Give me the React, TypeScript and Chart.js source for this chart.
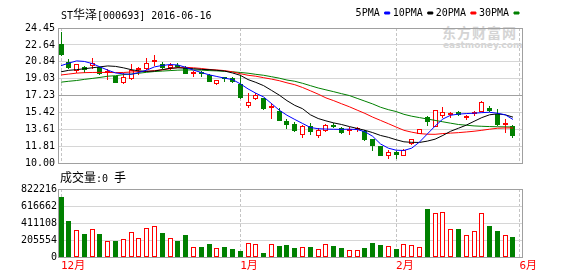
import React, { useEffect, useRef } from 'react';
import { Chart, registerables } from 'chart.js';

Chart.register(...registerables);

// ---------- data ----------
const monthLabels = ['12月', '1月', '2月', '6月'];
const monthTicks = [0, 23, 43, 58.83];
const priceTicks = [10.0, 11.81, 13.61, 15.42, 17.23, 19.03, 20.84, 22.64, 24.45];
const volumeTicks = [0, 205554, 411108, 616662, 822216];

const opens = [22.71, 20.82, 19.82, 20.32, 20.42, 20.26, 19.66, 19.32, 18.55, 19.01,
  19.95, 20.09, 20.82, 20.59, 20.19, 20.44, 20.19, 19.5, 19.55, 19.42,
  18.48, 19.0, 19.08, 18.48, 16.1, 16.82, 16.97, 15.88, 15.56, 14.46,
  14.15, 12.98, 13.95, 12.88, 13.45, 13.84, 13.72, 13.42, 13.5, 13.45,
  12.55, 11.77, 10.8, 11.14, 10.8, 12.04, 13.15, 14.89, 13.88, 15.06,
  15.13, 15.46, 14.86, 15.26, 15.46, 15.9, 15.23, 14.02, 13.95];
const closes = [21.53, 20.16, 20.56, 19.99, 20.74, 19.52, 19.72, 18.58, 19.19, 19.92,
  20.03, 20.74, 21.02, 20.12, 20.49, 20.26, 19.52, 19.55, 19.5, 18.65,
  18.85, 18.95, 18.63, 16.94, 16.57, 17.27, 15.73, 15.95, 14.49, 14.1,
  13.38, 13.95, 13.28, 13.55, 14.05, 13.8, 13.22, 13.47, 13.54, 12.47,
  11.81, 10.8, 11.21, 10.87, 11.39, 12.55, 13.62, 14.39, 15.63, 15.46,
  15.19, 15.16, 14.92, 15.32, 16.57, 15.56, 14.12, 14.08, 12.88];
const highs = [24.04, 21.13, 20.6, 20.42, 21.27, 20.32, 20.09, 19.35, 19.64, 20.59,
  20.29, 21.23, 21.53, 20.82, 20.74, 20.69, 20.34, 19.86, 19.82, 19.52,
  18.88, 19.19, 19.19, 19.38, 17.47, 17.5, 16.99, 16.47, 15.87, 14.66,
  14.39, 14.05, 14.29, 13.72, 14.15, 14.29, 13.88, 13.82, 13.88, 13.55,
  12.6, 11.87, 11.44, 11.24, 11.54, 12.6, 13.65, 15.06, 15.66, 16.0,
  15.49, 15.56, 15.16, 15.56, 16.6, 16.07, 15.79, 14.66, 14.05];
const lows = [21.4, 20.09, 19.66, 19.66, 20.09, 19.42, 18.85, 18.51, 18.48, 18.85,
  19.42, 19.92, 20.42, 20.02, 19.99, 20.19, 19.49, 19.19, 19.19, 18.62,
  18.31, 18.68, 18.53, 16.87, 15.9, 16.72, 15.7, 14.76, 14.46, 13.65,
  13.36, 12.65, 13.05, 12.72, 13.3, 13.7, 13.15, 13.05, 13.28, 12.37,
  11.27, 10.73, 10.46, 10.46, 10.78, 11.98, 13.12, 13.98, 13.85, 14.83,
  14.83, 15.06, 14.56, 15.06, 15.43, 15.46, 13.95, 13.22, 12.72];
const volumes = [728600, 431500, 321600, 272700, 333800, 272700, 199500, 199500, 211700, 301200,
  223900, 354100, 370400, 284900, 223900, 191300, 260500, 126200, 126200, 162800,
  109900, 126200, 101800, 69200, 171000, 162800, 52900, 162800, 138400, 150600,
  114000, 126200, 126200, 97700, 162800, 138400, 114000, 89500, 89500, 114000,
  175000, 150600, 134300, 101800, 162800, 146500, 122100, 578000, 529100, 549500,
  333800, 333800, 260500, 317500, 529100, 370400, 309300, 268600, 236100];
const ma5 = [20.42, 20.69, 20.93, 20.87, 20.64, 20.29, 19.94, 19.64, 19.54, 19.49,
  19.69, 19.94, 20.29, 20.44, 20.54, 20.49, 20.24, 19.94, 19.69, 19.44,
  19.26, 19.08, 18.93, 18.48, 17.93, 17.47, 17.07, 16.37, 15.66, 15.11,
  14.66, 14.23, 13.8, 13.67, 13.63, 13.61, 13.6, 13.62, 13.58, 13.35,
  12.85, 12.04, 11.59, 11.37, 11.34, 11.59, 12.24, 13.1, 13.95, 14.71,
  15.11, 15.23, 15.29, 15.33, 15.39, 15.43, 15.33, 15.16, 14.66];
const ma10 = [19.76, 19.92, 19.99, 20.09, 20.19, 20.29, 20.39, 20.34, 20.19, 19.99,
  19.86, 19.81, 19.84, 19.99, 20.14, 20.19, 20.14, 20.09, 20.02, 19.99,
  19.92, 19.84, 19.64, 19.39, 18.93, 18.63, 18.28, 17.78, 17.27, 16.67,
  16.17, 15.81, 15.16, 14.76, 14.51, 14.29, 14.12, 13.9, 13.7, 13.5,
  13.25, 12.95, 12.75, 12.49, 12.27, 12.21, 12.2, 12.34, 12.55, 12.95,
  13.4, 13.72, 14.05, 14.46, 14.86, 15.16, 15.26, 15.16, 14.91];
const ma20 = [19.42, 19.52, 19.62, 19.67, 19.69, 19.7, 19.69, 19.68, 19.69, 19.74,
  19.79, 19.82, 19.89, 19.97, 20.09, 20.22, 20.24, 20.19, 20.12, 20.02,
  19.96, 19.89, 19.76, 19.56, 19.39, 19.29, 19.13, 18.98, 18.81, 18.58,
  18.38, 18.08, 17.73, 17.37, 16.97, 16.67, 16.34, 16.02, 15.66, 15.31,
  14.91, 14.56, 14.21, 13.85, 13.5, 13.3, 13.15, 13.08, 13.07, 13.15,
  13.2, 13.25, 13.32, 13.4, 13.5, 13.62, 13.72, 13.75, 13.75];
const ma30 = [18.65, 18.75, 18.83, 18.95, 19.05, 19.16, 19.29, 19.34, 19.46, 19.52,
  19.61, 19.71, 19.79, 19.84, 19.89, 19.94, 19.96, 19.96, 19.94, 19.89,
  19.86, 19.82, 19.76, 19.69, 19.61, 19.49, 19.39, 19.24, 19.08, 18.88,
  18.75, 18.53, 18.28, 18.03, 17.83, 17.63, 17.42, 17.22, 16.92, 16.62,
  16.32, 15.97, 15.71, 15.51, 15.21, 15.01, 14.86, 14.71, 14.56, 14.41,
  14.26, 14.12, 14.05, 13.97, 13.93, 13.9, 13.88, 13.87, 13.85];

const maSeries = [
  { label: '5PMA', values: ma5, color: '#0000ff' },
  { label: '10PMA', values: ma10, color: '#000000' },
  { label: '20PMA', values: ma20, color: '#ff0000' },
  { label: '30PMA', values: ma30, color: '#008000' },
];

// ---------- styling ----------
const MONO = '"DejaVu Sans Mono", "Noto Sans CJK SC", monospace';
const CJK = '"Noto Sans CJK SC", sans-serif';
const UP = '#ff0000';
const DOWN = '#008000';
const X_MIN = -0.385;
const X_MAX = 59.155;

const upFlags = opens.map((o, i) => closes[i] >= o);
const markColor = upFlags.map((u) => (u ? UP : DOWN));
const hollowFill = upFlags.map((u) => (u ? '#ffffff' : DOWN));

// draws the grey frame around the plot area
const framePlugin = {
  id: 'frame',
  beforeDatasetsDraw(chart: any) {
    const { ctx, chartArea } = chart;
    const l = Math.round(chartArea.left) + 0.5;
    const t = Math.round(chartArea.top) + 0.5;
    const r = Math.round(chartArea.right) + 0.5;
    const b = Math.round(chartArea.bottom) + 0.5;
    ctx.save();
    ctx.setLineDash([]);
    ctx.strokeStyle = '#a0a0a0';
    ctx.lineWidth = 1;
    ctx.strokeRect(l, t, r - l, b - t);
    ctx.restore();
  },
};

// snaps bar elements (computed by the scales) to whole pixels so outlines stay crisp
const snapPlugin = {
  id: 'snapBars',
  afterDatasetsUpdate(chart: any) {
    chart.getSortedVisibleDatasetMetas().forEach((meta: any) => {
      if (meta.type !== 'bar') return;
      meta.data.forEach((el: any) => {
        const half = (el.width || 0) / 2;
        el.x = Math.round(el.x - half) + half;
        el.y = Math.round(el.y);
        el.base = Math.round(el.base);
      });
    });
  },
};

function monthAxis(showLabels: boolean) {
  return {
    type: 'linear',
    min: X_MIN,
    max: X_MAX,
    offset: false,
    afterBuildTicks: (axis: any) => {
      axis.ticks = monthTicks.map((v) => ({ value: v }));
    },
    afterFit: (axis: any) => {
      axis.height = showLabels ? 19 : 0;
    },
    grid: { offset: false, color: '#c4c4c4', lineWidth: 1, drawTicks: false },
    border: { display: false, dash: [3, 2] },
    ticks: {
      display: showLabels,
      autoSkip: false,
      maxRotation: 0,
      minRotation: 0,
      align: 'start',
      padding: 3,
      color: UP,
      font: { family: MONO, size: 11 },
      callback: (_v: any, i: number) => monthLabels[i],
    },
  };
}

function buildMainConfig(): any {
  return {
    type: 'bar',
    data: {
      datasets: [
        ...maSeries.map((s) => ({
          type: 'line',
          label: s.label,
          data: s.values.map((v, i) => ({ x: i, y: v })),
          borderColor: s.color,
          backgroundColor: s.color,
          borderWidth: 1,
          pointRadius: 0,
          tension: 0,
          order: 0,
        })),
        {
          type: 'bar',
          label: 'body',
          data: opens.map((o, i) => ({ x: i, y: [o, closes[i]] })),
          backgroundColor: hollowFill,
          borderColor: markColor,
          borderWidth: 1,
          borderSkipped: false,
          barThickness: 5,
          minBarLength: 2,
          inflateAmount: 0,
          grouped: false,
          order: 1,
        },
        {
          type: 'bar',
          label: 'wick',
          data: lows.map((l, i) => ({ x: i, y: [l, highs[i]] })),
          backgroundColor: markColor,
          borderWidth: 0,
          barThickness: 1,
          inflateAmount: 0,
          grouped: false,
          order: 2,
        },
      ],
    },
    options: {
      responsive: false,
      animation: false,
      events: [],
      layout: { padding: { top: 5, right: 56, bottom: 7, left: 0 } },
      plugins: {
        title: { display: false },
        tooltip: { enabled: false },
        legend: {
          display: true,
          position: 'top',
          align: 'start',
          rtl: true,
          textDirection: 'ltr',
          reverse: true,
          labels: {
            boxWidth: 5,
            boxHeight: 2,
            padding: 3,
            color: '#000000',
            font: { family: MONO, size: 10 },
            filter: (item: any) => item.datasetIndex < maSeries.length,
          },
        },
      },
      scales: {
        x: monthAxis(false),
        y: {
          type: 'linear',
          min: priceTicks[0],
          max: priceTicks[priceTicks.length - 1],
          afterBuildTicks: (axis: any) => {
            axis.ticks = priceTicks.map((v) => ({ value: v }));
          },
          afterFit: (axis: any) => {
            axis.width = 58;
          },
          grid: {
            drawTicks: false,
            lineWidth: 1,
            color: (ctx: any) => (ctx.index === 4 ? '#a0a0a0' : '#d6d6d6'),
          },
          border: { display: false },
          ticks: {
            autoSkip: false,
            padding: 3,
            color: '#000000',
            font: { family: MONO, size: 10 },
            callback: (v: any) => Number(v).toFixed(2),
          },
        },
      },
    },
    plugins: [snapPlugin, framePlugin],
  };
}

function buildVolumeConfig(): any {
  return {
    type: 'bar',
    data: {
      datasets: [
        {
          label: '成交量',
          data: volumes.map((v, i) => ({ x: i, y: v })),
          backgroundColor: hollowFill,
          borderColor: markColor,
          borderWidth: 1,
          borderSkipped: false,
          barThickness: 5,
          inflateAmount: 0,
          grouped: false,
        },
      ],
    },
    options: {
      responsive: false,
      animation: false,
      events: [],
      layout: { padding: { top: 13, right: 56, bottom: 0, left: 0 } },
      plugins: {
        legend: { display: false },
        title: { display: false },
        tooltip: { enabled: false },
      },
      scales: {
        x: monthAxis(true),
        y: {
          type: 'linear',
          min: volumeTicks[0],
          max: volumeTicks[volumeTicks.length - 1],
          afterBuildTicks: (axis: any) => {
            axis.ticks = volumeTicks.map((v) => ({ value: v }));
          },
          afterFit: (axis: any) => {
            axis.width = 58;
          },
          grid: { drawTicks: false, lineWidth: 1, color: '#d6d6d6' },
          border: { display: false },
          ticks: {
            autoSkip: false,
            padding: 1,
            color: '#000000',
            font: { family: MONO, size: 10 },
            callback: (v: any) => String(v),
          },
        },
      },
    },
    plugins: [snapPlugin, framePlugin],
  };
}

export default function App() {
  const mainRef = useRef<HTMLCanvasElement>(null);
  const volRef = useRef<HTMLCanvasElement>(null);

  useEffect(() => {
    const main = new Chart(mainRef.current as HTMLCanvasElement, buildMainConfig());
    const vol = new Chart(volRef.current as HTMLCanvasElement, buildVolumeConfig());
    return () => {
      main.destroy();
      vol.destroy();
    };
  }, []);

  return (
    <div
      style={{
        position: 'fixed',
        left: 0,
        top: 0,
        width: 578,
        height: 276,
        background: '#ffffff',
        overflow: 'hidden',
      }}
    >
      <div
        style={{
          position: 'absolute',
          left: 442,
          top: 24,
          fontFamily: CJK,
          fontWeight: 700,
          fontSize: 14,
          lineHeight: '16px',
          color: '#d4d4d4',
          whiteSpace: 'pre',
          letterSpacing: 1,
        }}
      >
        东方财富网
      </div>
      <div
        style={{
          position: 'absolute',
          left: 443,
          top: 40,
          fontFamily: '"DejaVu Sans", sans-serif',
          fontWeight: 700,
          fontSize: 9,
          lineHeight: '10px',
          color: '#d4d4d4',
          whiteSpace: 'pre',
        }}
      >
        eastmoney.com
      </div>
      <canvas
        ref={mainRef}
        width={578}
        height={172}
        style={{ position: 'absolute', left: 0, top: 0 }}
      />
      <canvas
        ref={volRef}
        width={578}
        height={100}
        style={{ position: 'absolute', left: 0, top: 176 }}
      />
      <div
        style={{
          position: 'absolute',
          left: 61,
          top: 7,
          fontFamily: MONO,
          fontSize: 10,
          lineHeight: '14px',
          color: '#000000',
          whiteSpace: 'pre',
        }}
      >
        ST
        <span style={{ fontFamily: CJK, fontSize: 12, lineHeight: '14px' }}>华泽</span>
        [000693] 2016-06-16
      </div>
      <div
        style={{
          position: 'absolute',
          left: 60,
          top: 170,
          fontFamily: CJK,
          fontSize: 12,
          lineHeight: '14px',
          color: '#000000',
          whiteSpace: 'pre',
        }}
      >
        成交量
        <span style={{ fontFamily: MONO, fontSize: 10, lineHeight: '14px' }}>:0 </span>
        手
      </div>
    </div>
  );
}
